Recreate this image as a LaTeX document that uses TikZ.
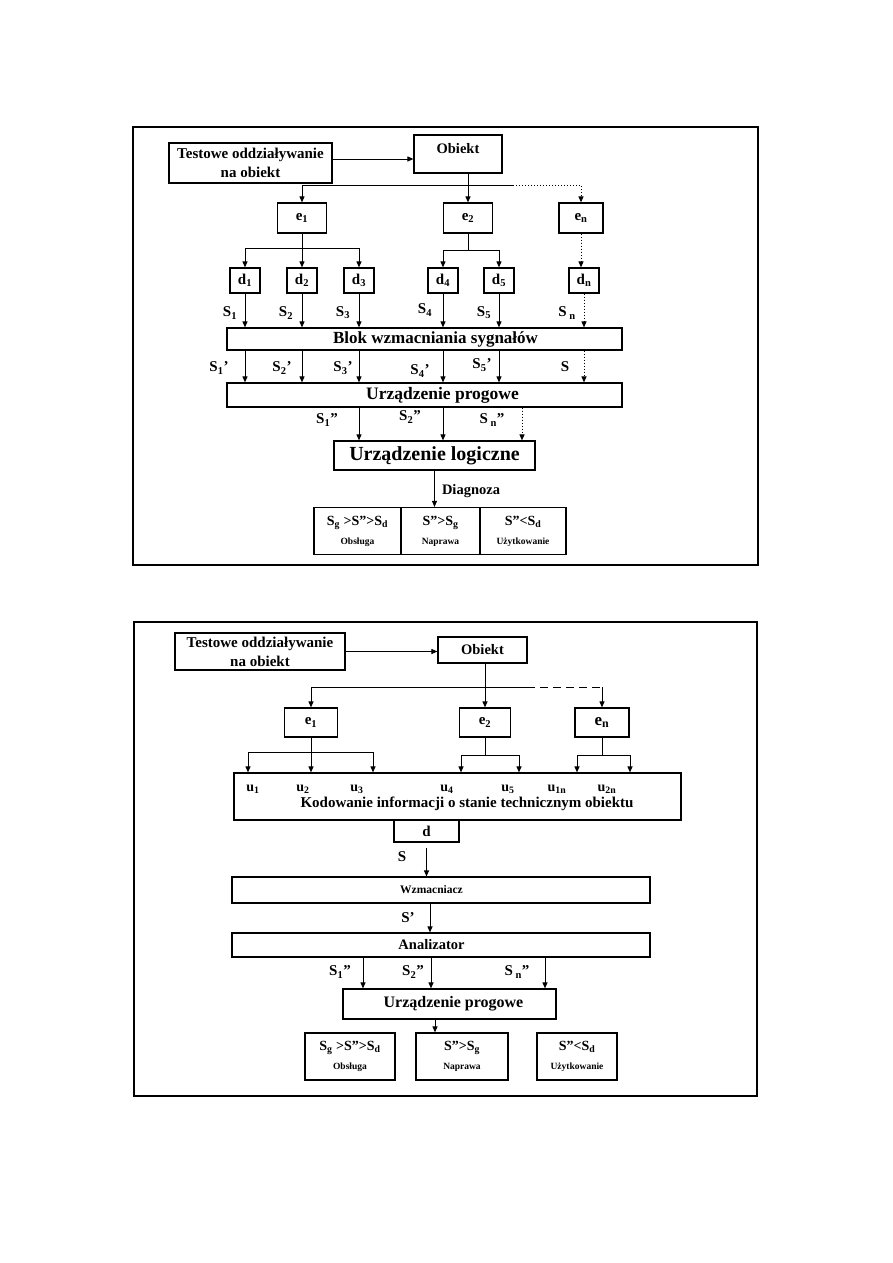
\documentclass[tikz,border=0pt]{standalone}
\usepackage{fontspec}
\setmainfont{Liberation Serif}
\usetikzlibrary{arrows.meta}
\newcommand{\fsz}[2]{\fontsize{#1}{#2}\selectfont}

\begin{document}
\begin{tikzpicture}[x=1pt, y=-1pt, line width=1pt,
  arr/.style={-{Triangle[length=6pt, width=5pt]}, line width=1pt},
  dots/.style={dash pattern=on 1pt off 2pt},
  blk/.style={draw, line width=1.2pt, inner sep=0pt, align=center, font=\fsz{15}{19}\bfseries},
  lbl/.style={inner sep=0pt, font=\fsz{15}{17}\bfseries},
  res/.style={blk, minimum height=47, font=\fsz{14}{16}\bfseries},
  frame/.style={line width=1.6pt}]

  \fill[white] (0,0) rectangle (893,1263);

  % ---- upper scheme ----
  \draw[frame] (133,127) rectangle (758,565);

  \node[blk, minimum width=163, minimum height=40] (test1) at (250.5,163) {Testowe oddziaływanie\\na obiekt};
  \node[blk, minimum width=88, minimum height=38, text height=10pt, text depth=12pt,
    font=\fsz{14.5}{17}\bfseries] (obj1) at (458,154) {Obiekt};
  \draw[arr] ([yshift=4pt]test1.east) -- ([yshift=4pt]test1.east -| obj1.west);

  \node[blk, minimum width=49, minimum height=30] (e1) at (302,218) {e\textsubscript{1}};
  \node[blk, minimum width=49, minimum height=30] (e2) at (468,218) {e\textsubscript{2}};
  \node[blk, minimum width=44, minimum height=30] (en) at (581,218) {e\textsubscript{n}};

  \coordinate (r1) at (468,185);
  \draw[arr] (e2.north |- obj1.south) -- (e2.north);
  \draw[arr] (r1) -| (e1.north);
  \draw (r1) -- ++(45,0) coordinate (r1e);
  \draw[arr, dots] (r1e) -| (en.north);

  \node[blk, minimum width=30, minimum height=25] (d1) at (245,280.5) {d\textsubscript{1}};
  \node[blk, minimum width=30, minimum height=25] (d2) at (302,280.5) {d\textsubscript{2}};
  \node[blk, minimum width=30, minimum height=25] (d3) at (359,280.5) {d\textsubscript{3}};
  \node[blk, minimum width=30, minimum height=25] (d4) at (443,280.5) {d\textsubscript{4}};
  \node[blk, minimum width=30, minimum height=25] (d5) at (499,280.5) {d\textsubscript{5}};
  \node[blk, minimum width=30, minimum height=25] (dn) at (584,280.5) {d\textsubscript{n}};

  \draw (e1.south) -- ++(0,15) coordinate (f1);
  \draw[arr] (f1) -| (d1.north);
  \draw[arr] (f1) -- (d2.north);
  \draw[arr] (f1) -| (d3.north);
  \draw (e2.south) -- ++(0,17) coordinate (f2);
  \draw[arr] (f2) -| (d4.north);
  \draw[arr] (f2) -| (d5.north);
  \draw[arr, dots] (en.south) -- (en.south |- dn.north);

  \node[blk, minimum width=395, minimum height=22] (blok1) at (424.5,339) {};
  \node[lbl, font=\fsz{17}{19}\bfseries] (blok1t) at (435.5,339) {Blok wzmacniania sygnałów};
  \node[blk, minimum width=395, minimum height=24] (prog1) at (424.5,395) {};
  \node[lbl, font=\fsz{17.5}{19}\bfseries] (prog1t) at (442.5,395) {Urządzenie progowe};

  \foreach \d in {d1,d2,d3,d4,d5} {
    \draw[arr] (\d.south) -- (\d.south |- blok1.north);
    \draw[arr] (\d.south |- blok1.south) -- (\d.south |- prog1.north);
  }
  \draw[arr, dots] (dn.south) -- (dn.south |- blok1.north);
  \draw[arr, dots] (dn.south |- blok1.south) -- (dn.south |- prog1.north);

  \node[lbl] (s1) at (230,313) {S\textsubscript{1}};
  \node[lbl] (s2) at (286,313) {S\textsubscript{2}};
  \node[lbl] (s3) at (343,313) {S\textsubscript{3}};
  \node[lbl] (s4) at (425,310) {S\textsubscript{4}};
  \node[lbl] (s5) at (484,313) {S\textsubscript{5}};
  \node[lbl] (sn) at (567,313) {S\,\textsubscript{n}};

  \node[lbl] (s1p) at (219,368) {S\textsubscript{1}’};
  \node[lbl] (s2p) at (282,368) {S\textsubscript{2}’};
  \node[lbl] (s3p) at (343,368) {S\textsubscript{3}’};
  \node[lbl] (s4p) at (420,371) {S\textsubscript{4}’};
  \node[lbl] (s5p) at (482,365) {S\textsubscript{5}’};
  \node[lbl] (sp) at (565,367) {S};

  \node[blk, minimum width=201, minimum height=29, font=\fsz{20}{22}\bfseries] (logic1) at (434.5,455.5) {Urządzenie logiczne};
  \draw[arr] (d3.south |- prog1.south) -- (d3.south |- logic1.north);
  \draw[arr] (d4.south |- prog1.south) -- (d4.south |- logic1.north);
  \draw[arr, dots] ([xshift=87.5pt]logic1.north |- prog1.south) -- ([xshift=87.5pt]logic1.north);

  \node[lbl] (s1b) at (327,420) {S\textsubscript{1}”};
  \node[lbl] (s2b) at (410,417) {S\textsubscript{2}”};
  \node[lbl] (snb) at (492,420) {S\,\textsubscript{n}”};

  \node[res, minimum width=87] (res1) at (357.5,531) {S\textsubscript{g} >S”>S\textsubscript{d}\\[3pt]{\fsz{9.5}{11}Obsługa}};
  \node[res, minimum width=79] (res2) at (440.5,531) {S”>S\textsubscript{g}\\[3pt]{\fsz{9.5}{11}Naprawa}};
  \node[res, minimum width=86] (res3) at (523,531) {S”<S\textsubscript{d}\\[3pt]{\fsz{9.5}{11}Użytkowanie}};
  \draw[arr] (logic1.south) -- (logic1.south |- res2.north)
    node[pos=0.55, right=7pt, lbl, font=\fsz{14.5}{16}\bfseries] {Diagnoza};

  % ---- lower scheme ----
  \draw[frame] (134,622) rectangle (757,1096);

  \node[blk, minimum width=170, minimum height=37] (test2) at (260,651.5) {Testowe oddziaływanie\\na obiekt};
  \node[blk, minimum width=89, minimum height=26, font=\fsz{14.5}{17}\bfseries] (obj2) at (482.5,650) {Obiekt};
  \draw[arr] (test2.east) -- (test2.east -| obj2.west);

  \node[blk, minimum width=53, minimum height=29] (e1b) at (311,722.5) {e\textsubscript{1}};
  \node[blk, minimum width=51, minimum height=29] (e2b) at (485,722.5) {e\textsubscript{2}};
  \node[blk, minimum width=54, minimum height=29, font=\fsz{17}{19}\bfseries] (enb) at (602,722.5) {e\textsubscript{n}};

  \coordinate (r2) at (485,687);
  \draw[arr] (e2b.north |- obj2.south) -- (e2b.north);
  \draw[arr] (r2) -| (e1b.north);
  \draw (r2) -- ++(42,0) coordinate (r2e);
  \draw[dash pattern=on 8pt off 5pt] (r2e) -- (r2e -| enb.north);
  \draw[arr] (r2e -| enb.north) -- (enb.north);

  \node[blk, minimum width=447, minimum height=47] (kod) at (457.5,796.5) {};

  \draw (e1b.south) -- ++(0,15) coordinate (g1);
  \draw[arr] (g1) -| ([xshift=-63pt]g1 |- kod.north);
  \draw[arr] (g1) -- (g1 |- kod.north);
  \draw[arr] (g1) -| ([xshift=62pt]g1 |- kod.north);
  \draw (e2b.south) -- ++(0,18) coordinate (g2);
  \draw[arr] (g2) -| ([xshift=-24pt]g2 |- kod.north);
  \draw[arr] (g2) -| ([xshift=34pt]g2 |- kod.north);
  \draw (enb.south) -- ++(0,18) coordinate (g3);
  \draw[arr] (g3) -| ([xshift=-25pt]g3 |- kod.north);
  \draw[arr] (g3) -| ([xshift=28pt]g3 |- kod.north);

  \node[lbl, anchor=base, font=\fsz{14}{16}\bfseries] (u1) at (253,791) {u\textsubscript{1}};
  \node[lbl, anchor=base, font=\fsz{14}{16}\bfseries] (u2) at (303,791) {u\textsubscript{2}};
  \node[lbl, anchor=base, font=\fsz{14}{16}\bfseries] (u3) at (357,791) {u\textsubscript{3}};
  \node[lbl, anchor=base, font=\fsz{14}{16}\bfseries] (u4) at (447,791) {u\textsubscript{4}};
  \node[lbl, anchor=base, font=\fsz{14}{16}\bfseries] (u5) at (508,791) {u\textsubscript{5}};
  \node[lbl, anchor=base, font=\fsz{14}{16}\bfseries] (u1n) at (557,791) {u\textsubscript{1n}};
  \node[lbl, anchor=base, font=\fsz{14}{16}\bfseries] (u2n) at (607,791) {u\textsubscript{2n}};
  \node[lbl, anchor=base] (kodtxt) at (467,807) {Kodowanie informacji o stanie technicznym obiektu};

  \node[blk, minimum width=65, minimum height=22] (dd) at (426.5,831) {d};
  \node[blk, minimum width=418, minimum height=26] (wzm) at (441,890) {};
  \node[lbl, font=\fsz{11.5}{13}\bfseries] (wzmt) at (431.5,890) {Wzmacniacz};
  \node[blk, minimum width=418, minimum height=24] (ana) at (441,945) {};
  \node[lbl, font=\fsz{14.5}{16}\bfseries] (anat) at (431.5,945) {Analizator};
  \draw[arr, shorten <=5pt] (dd.south) -- (dd.south |- wzm.north);
  \draw[arr] ([xshift=-11pt]wzm.south) -- ([xshift=-11pt]wzm.south |- ana.north);
  \node[lbl] (sd) at (402,857) {S};
  \node[lbl] (sdp) at (408,918) {S’};

  \node[blk, minimum width=213, minimum height=30, font=\fsz{16}{18}\bfseries] (prog2) at (449.5,1004) {\hspace*{8pt}Urządzenie progowe};
  \foreach \dx in {-86.5,-18.5,95.5}
    \draw[arr] ([xshift=\dx pt]prog2.north |- ana.south) -- ([xshift=\dx pt]prog2.north);
  \node[lbl] (s1c) at (340,972) {S\textsubscript{1}”};
  \node[lbl] (s2c) at (413,972) {S\textsubscript{2}”};
  \node[lbl] (snc) at (517,972) {S\,\textsubscript{n}”};

  \node[res, minimum width=90] (rb1) at (350,1056.5) {S\textsubscript{g} >S”>S\textsubscript{d}\\[3pt]{\fsz{9.5}{11}Obsługa}};
  \node[res, minimum width=92] (rb2) at (462,1056.5) {S”>S\textsubscript{g}\\[3pt]{\fsz{9.5}{11}Naprawa}};
  \node[res, minimum width=80] (rb3) at (577,1056.5) {S”<S\textsubscript{d}\\[3pt]{\fsz{9.5}{11}Użytkowanie}};
  \draw[arr] ([xshift=-14.5pt]prog2.south) -- ([xshift=-14.5pt]prog2.south |- rb2.north);

\end{tikzpicture}
\end{document}
